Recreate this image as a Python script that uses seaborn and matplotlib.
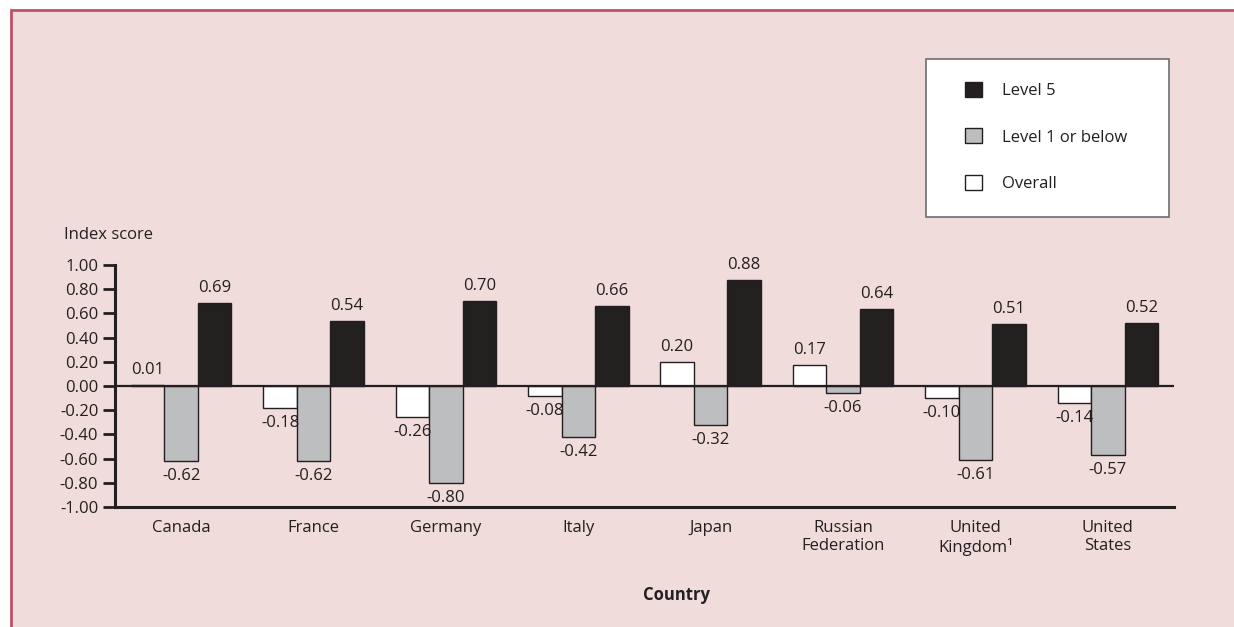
import pandas as pd
import matplotlib.pyplot as plt
import seaborn as sns
from matplotlib.patches import Patch, Rectangle

# Data
countries = ["Canada", "France", "Germany", "Italy", "Japan",
             "Russian\nFederation", "United\nKingdom\u00b9", "United\nStates"]
overall = [0.01, -0.18, -0.26, -0.08, 0.20, 0.17, -0.10, -0.14]
level1 = [-0.62, -0.62, -0.80, -0.42, -0.32, -0.06, -0.61, -0.57]
level5 = [0.69, 0.54, 0.70, 0.66, 0.88, 0.64, 0.51, 0.52]
series = ["Overall", "Level 1 or below", "Level 5"]
yticks = [1.0, 0.8, 0.6, 0.4, 0.2, 0.0, -0.2, -0.4, -0.6, -0.8, -1.0]

df = pd.DataFrame({
    "Country": countries * 3,
    "Series": [series[0]] * 8 + [series[1]] * 8 + [series[2]] * 8,
    "Score": overall + level1 + level5,
})

colors = {"Overall": "#ffffff", "Level 1 or below": "#bcbec0", "Level 5": "#231f20"}
dark = "#231f20"
bg = "#efdcdb"

sns.set_style("white")
plt.rcParams["font.family"] = ["Open Sans", "DejaVu Sans"]

fig = plt.figure(figsize=(12.34, 6.27), dpi=100, facecolor="white")

# pink panel with red frame (behind everything)
fig.patches.append(Rectangle((11 / 1234, -0.1), 1.2, 1.1 - 10 / 627,
                             transform=fig.transFigure, facecolor=bg,
                             edgecolor="#c0506a", linewidth=2, zorder=-5))

ax = fig.add_axes([115 / 1234, 120 / 627, 1059 / 1234, 242 / 627])
ax.set_facecolor("none")

sns.barplot(data=df, x="Country", y="Score", hue="Series", hue_order=series,
            palette=colors, width=0.76, edgecolor=dark, linewidth=1,
            legend=False, ax=ax)

for cont in ax.containers:
    ax.bar_label(cont, fmt="%.2f", padding=5, fontsize=12, color=dark)

ax.set_ylim(-1, 1)
ax.set_yticks(yticks)
ax.set_yticklabels([f"{v:.2f}" for v in yticks], fontsize=12, color=dark)
ax.set_xlim(-0.5, len(countries) - 0.5)
ax.tick_params(axis="y", direction="out", length=9, width=2, color=dark, pad=3, left=True)
ax.tick_params(axis="x", length=0, pad=9, labelsize=12, labelcolor=dark)
ax.axhline(0, color=dark, linewidth=1.6, zorder=5)

for s in ["top", "right"]:
    ax.spines[s].set_visible(False)
for s in ["left", "bottom"]:
    ax.spines[s].set_color(dark)
    ax.spines[s].set_linewidth(2.2)

ax.set_xlabel("")
ax.set_ylabel("")
fig.text(677 / 1234, 1 - 595 / 627, "Country", fontsize=12, fontweight="bold",
         color=dark, ha="center", va="center")
fig.text(64 / 1234, 1 - 235 / 627, "Index score", fontsize=12, color=dark, va="center")

# legend box
fig.patches.append(Rectangle((926 / 1234, 1 - 217 / 627), 243 / 1234, 158 / 627,
                             transform=fig.transFigure, facecolor="white",
                             edgecolor="#6d6e71", linewidth=1.2, zorder=1))
handles = [Patch(facecolor=colors[s], edgecolor=dark, linewidth=1) for s in reversed(series)]
fig.legend(handles, list(reversed(series)), loc="upper left",
           bbox_to_anchor=(950 / 1234, 1 - 67 / 627), frameon=False,
           fontsize=12, labelspacing=1.75, handlelength=1.0, handleheight=1.0,
           handletextpad=1.2, labelcolor=dark)

fig.savefig("out.png", dpi=100, facecolor="white")
